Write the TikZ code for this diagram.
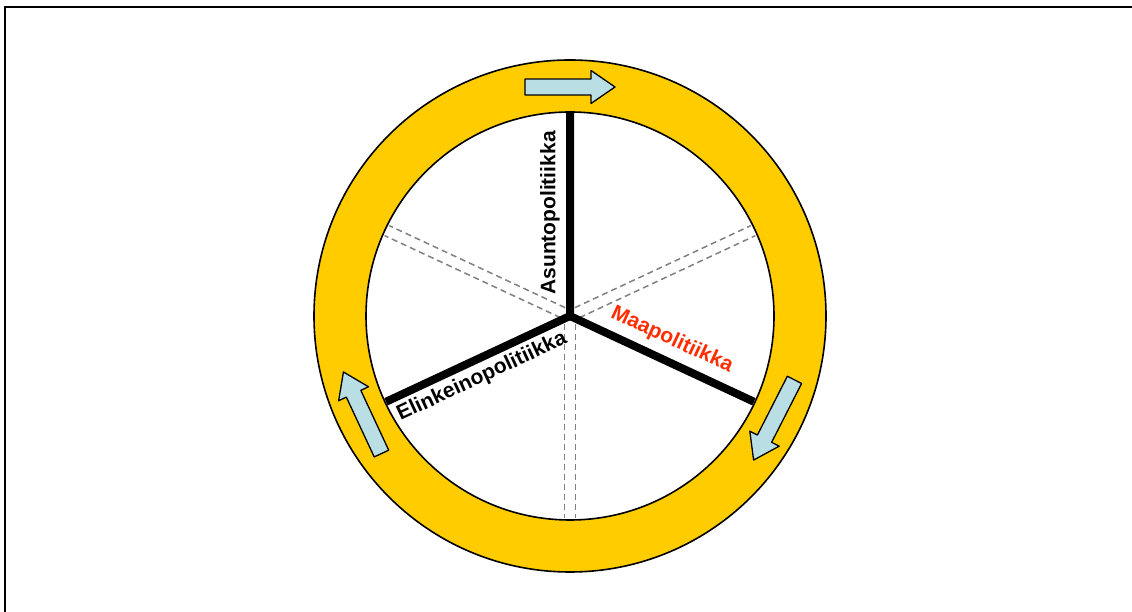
\documentclass[tikz,border=0pt]{standalone}
\usepackage{fontspec}
\setmainfont{Liberation Sans}
\usepackage{tikz}
\usetikzlibrary{calc}
\definecolor{ringyellow}{RGB}{255, 204, 0}
\definecolor{arrowblue}{RGB}{185, 222, 228}
\definecolor{landred}{RGB}{255, 45, 0}

\tikzset{
  spoke/.style={line width=8pt},
  guide/.style={gray, line width=1.5pt, dash pattern=on 6pt off 4pt},
  spokelabel/.style={font=\fontsize{21}{25}\selectfont\bfseries, inner sep=0pt},
  ringarrow/.pic={
    \draw[fill=arrowblue, line width=1.3pt, line join=round]
      (-45,-8) -- (21,-8) -- (21,-16.5) -- (45,0) -- (21,16.5) -- (21,8) -- (-45,8) -- cycle;
  }
}

\begin{document}
\begin{tikzpicture}[x=1pt, y=1pt]
    \useasboundingbox (0,0) rectangle (1132,612);
    % frame
    \draw[line width=2pt] (5,0) -- (5,605) -- (1132,605);
    \coordinate (hub) at (570,296);
    % ring
    \fill[ringyellow, even odd rule] (hub) circle (256) (hub) circle (204);
    % dashed back spokes
    \foreach \a in {155, 25, 270}
      \foreach \o in {-5.5, 5.5}
        \draw[guide] ($(hub)+(\a:8)+(\a+90:\o)$) -- ($(hub)+(\a:202)+(\a+90:\o)$);
    % spokes
    \coordinate (asuntoend) at ([shift={(90:203)}]hub);
    \coordinate (elinend) at ([shift={(205:203)}]hub);
    \coordinate (maaend) at ([shift={(-25:203)}]hub);
    \draw[spoke] (asuntoend) -- (hub) -- (elinend);
    \draw[spoke] (hub) -- (maaend);
    \draw[line width=1.6pt] (hub) circle (256) (hub) circle (204);
    % turning arrows
    \foreach \a in {90, -27, 205}
      \pic[rotate=\a-90] at ([shift={(\a:229)}]hub) {ringarrow};
    % labels
    \node[spokelabel, rotate=90] (asunto) at (550,399) {Asuntopolitiikka};
    \node[spokelabel, rotate=25] (elin) at (482,235) {Elinkeinopolitiikka};
    \node[spokelabel, rotate=-25, text=landred] (maa) at (672,272) {Maapolitiikka};
\end{tikzpicture}
\end{document}
